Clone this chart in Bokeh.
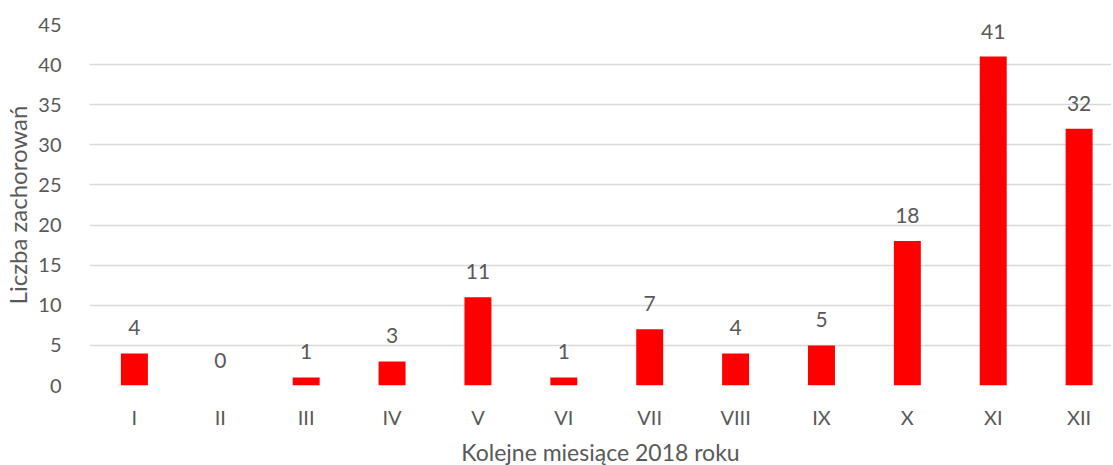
from bokeh.plotting import figure
from bokeh.models import ColumnDataSource, Range1d, FixedTicker, LabelSet
from bokeh.core.properties import value
from bokeh.embed import file_html
from bokeh.resources import INLINE

months = ["I", "II", "III", "IV", "V", "VI", "VII", "VIII", "IX", "X", "XI", "XII"]
cases = [4, 0, 1, 3, 11, 1, 7, 4, 5, 18, 41, 32]
y_ticks = [0, 5, 10, 15, 20, 25, 30, 35, 40, 45]

xs = [i + 0.5 for i in range(len(months))]
src = ColumnDataSource(dict(x=xs, top=cases, label=[str(c) for c in cases]))

FONT = "Lato"
GRAY = "#595959"

p = figure(width=1105, height=457, output_backend="svg", toolbar_location=None,
           x_range=Range1d(-0.023, 11.877), y_range=Range1d(0, 45),
           min_border_left=83, min_border_right=0, min_border_top=24, min_border_bottom=0)
p.frame_height = 361
p.frame_width = 1022
p.outline_line_color = None
p.background_fill_color = "white"

p.vbar(x="x", top="top", width=0.314, bottom=0, source=src,
       fill_color="#FF0000", line_color=None)

labels = LabelSet(x="x", y="top", text="label", source=src, text_align="center",
                  text_baseline="alphabetic", y_offset=18, text_font=value(FONT),
                  text_font_size="21px", text_color=GRAY)
p.add_layout(labels)

p.xgrid.grid_line_color = None
p.ygrid.grid_line_color = "#d9d9d9"
p.ygrid.grid_line_width = 1.5
p.ygrid.ticker = FixedTicker(ticks=y_ticks)

p.yaxis.ticker = FixedTicker(ticks=y_ticks)
p.yaxis.axis_line_color = None
p.yaxis.major_tick_line_color = None
p.yaxis.minor_tick_line_color = None
p.yaxis.major_label_text_font = FONT
p.yaxis.major_label_text_font_size = "20px"
p.yaxis.major_label_text_color = GRAY
p.yaxis.major_label_standoff = 22
p.yaxis.axis_label = "Liczba zachorowań"
p.yaxis.axis_label_text_font = FONT
p.yaxis.axis_label_text_font_size = "24px"
p.yaxis.axis_label_text_font_style = "normal"
p.yaxis.axis_label_text_color = GRAY
p.yaxis.axis_label_standoff = 3

p.xaxis.ticker = FixedTicker(ticks=xs)
p.xaxis.major_label_overrides = {x: m for x, m in zip(xs, months)}
p.xaxis.axis_line_color = None
p.xaxis.major_tick_line_color = None
p.xaxis.minor_tick_line_color = None
p.xaxis.major_label_text_font = FONT
p.xaxis.major_label_text_font_size = "20px"
p.xaxis.major_label_text_color = GRAY
p.xaxis.major_label_standoff = 13
p.xaxis.axis_label = "Kolejne miesiące 2018 roku"
p.xaxis.axis_label_text_font = FONT
p.xaxis.axis_label_text_font_size = "23px"
p.xaxis.axis_label_text_font_style = "normal"
p.xaxis.axis_label_text_color = GRAY
p.xaxis.axis_label_standoff = 6

open("out.html", "w").write(file_html(p, INLINE))
